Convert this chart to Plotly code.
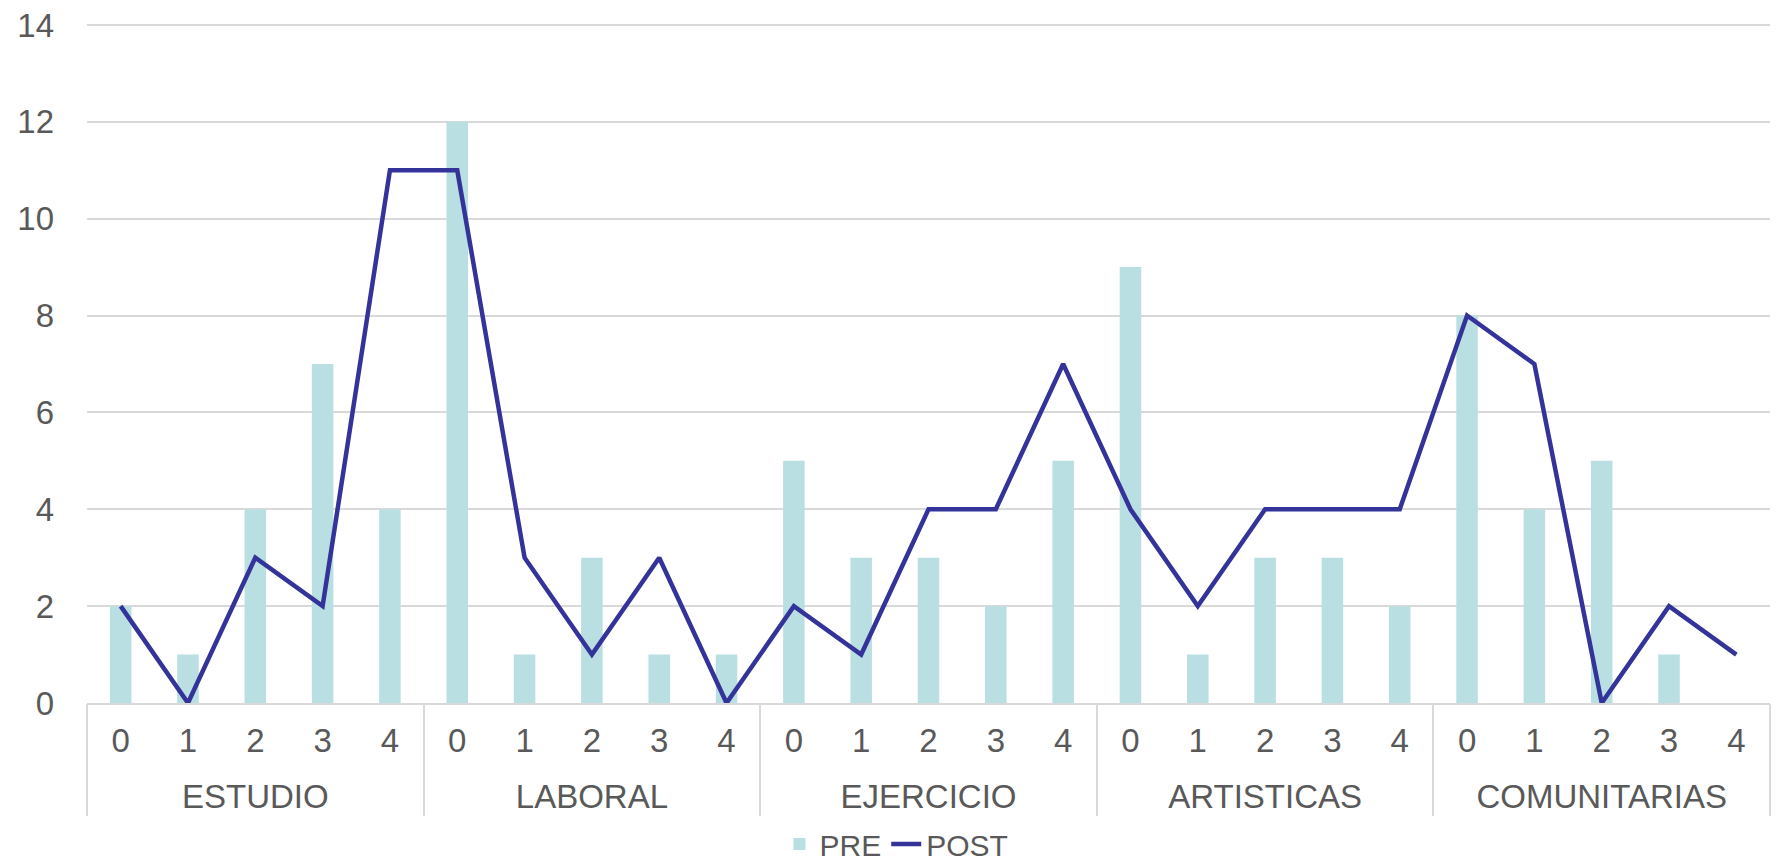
import plotly.graph_objects as go

groups = ["ESTUDIO", "LABORAL", "EJERCICIO", "ARTISTICAS", "COMUNITARIAS"]
levels = ["0", "1", "2", "3", "4"]
pre = [2, 1, 4, 7, 4,
       12, 1, 3, 1, 1,
       5, 3, 3, 2, 5,
       9, 1, 3, 3, 2,
       8, 4, 5, 1, 0]
post = [2, 0, 3, 2, 11,
        11, 3, 1, 3, 0,
        2, 1, 4, 4, 7,
        4, 2, 4, 4, 4,
        8, 7, 0, 2, 1]

n_lv = len(levels)
n = len(groups) * n_lv
pos = list(range(n))                      # category positions on the axis
inner_text = [levels[i % n_lv] for i in pos]
group_centers = [g * n_lv + (n_lv - 1) / 2 for g in range(len(groups))]
group_bounds = [g * n_lv - 0.5 for g in range(len(groups) + 1)]

FONT = "Liberation Sans, Arial, sans-serif"
GREY = "#595959"
LINEC = "#D9D9D9"
FS = 33

fig = go.Figure()
fig.add_trace(go.Bar(x=pos, y=pre, name="PRE", xaxis="x",
                     marker=dict(color="#BADFE3", line=dict(width=0))))
fig.add_trace(go.Scatter(x=pos, y=post, name="POST", mode="lines", xaxis="x2",
                         line=dict(color="#333399", width=4.5)))

xr = [-0.5, n - 0.5]
fig.update_layout(
    width=1777, height=862,
    margin=dict(l=87, r=7, t=23, b=159),
    plot_bgcolor="white", paper_bgcolor="white",
    bargap=0.68,
    font=dict(family=FONT, size=FS, color=GREY),
    showlegend=True,
    legend=dict(orientation="h", xref="paper", yref="container",
                x=0.481, xanchor="center", y=0.021, yanchor="middle",
                font=dict(size=30, color=GREY), tracegroupgap=0),
    xaxis=dict(
        range=xr, tickmode="array", tickvals=pos, ticktext=inner_text,
        ticks="", showline=True, linecolor=LINEC, linewidth=1.5,
        showgrid=False, zeroline=False, automargin=False,
        ticklabelstandoff=8, tickfont=dict(size=FS, color=GREY),
    ),
    xaxis2=dict(
        overlaying="x", side="bottom", anchor="y",
        range=xr, tickmode="array", tickvals=group_centers, ticktext=groups,
        ticks="", showline=False, showgrid=False, zeroline=False, automargin=False,
        ticklabelstandoff=71, tickfont=dict(size=FS, color=GREY),
        minor=dict(tickmode="array", tickvals=group_bounds, ticks="outside",
                   ticklen=112, tickwidth=1.5, tickcolor=LINEC, showgrid=False),
    ),
    yaxis=dict(
        range=[0, 14.04], tickmode="array", tickvals=[0, 2, 4, 6, 8, 10, 12, 14],
        showgrid=True, gridcolor=LINEC, gridwidth=1.5,
        zeroline=False, showline=False, automargin=False,
        tickfont=dict(size=FS, color=GREY), ticklabelstandoff=32,
    ),
)

fig.write_html("out.html", config={"displayModeBar": False},
               post_script="document.body.style.margin='0';document.body.style.overflow='hidden';")
